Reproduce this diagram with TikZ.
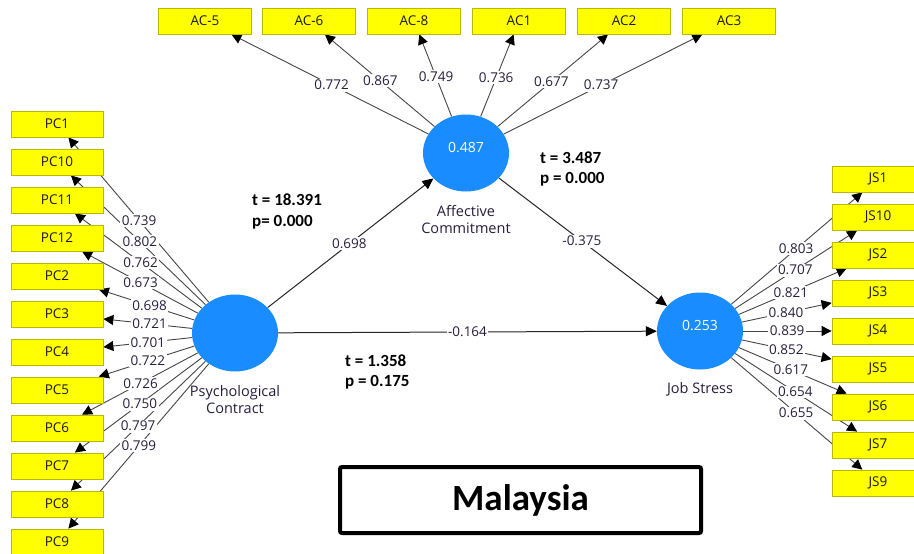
\documentclass[tikz,border=0pt]{standalone}
\usepackage{fontspec}
\setmainfont{Open Sans}
\newfontfamily\calib{Carlito}
\usetikzlibrary{shapes.geometric,arrows.meta,calc}
\definecolor{lvblue}{RGB}{25,140,255}
\definecolor{indyel}{RGB}{255,255,0}
\definecolor{indbord}{RGB}{185,185,0}
\definecolor{lnc}{RGB}{70,70,70}
\definecolor{txc}{RGB}{40,30,60}
\pgfdeclarelayer{edges}
\pgfdeclarelayer{paper}
\pgfsetlayers{paper,edges,main}
\begin{document}
\begin{tikzpicture}[x=1pt,y=-1pt,
 lv/.style={ellipse,fill=lvblue,minimum width=86pt,minimum height=77pt,inner sep=0pt},
 ind/.style={rectangle,fill=indyel,draw=indbord,line width=0.8pt,minimum width=92pt,minimum height=26pt,inner sep=0pt,font=\fontsize{13.5}{15}\selectfont,text=black!90},
 ld/.style={draw=lnc,line width=0.9pt,-{Triangle[length=10pt,width=10pt,black]}},
 sp/.style={draw=black!85,line width=1pt,-{Triangle[length=11pt,width=10pt,black]}},
 num/.style={fill=white,inner sep=1.5pt,text=txc,font=\fontsize{13.5}{15}\selectfont},
 lvname/.style={align=center,text=txc,font=\fontsize{14.5}{17}\selectfont},
 lvval/.style={text=white,font=\fontsize{14}{15}\selectfont},
 tp/.style={align=left,anchor=west,inner sep=0pt,font=\calib\bfseries\fontsize{17}{20.5}\selectfont}]
\useasboundingbox (0,0) rectangle (914,554);
\clip (0,0) rectangle (914,554);
\begin{pgfonlayer}{paper}
  \fill[white] (0,0) rectangle (914,554);
\end{pgfonlayer}

% latent variables
\node[lv] (pc) at (235,333) {};
\node[lv] (ac) at (466,153) {};
\node[lv] (js) at (700,331) {};
\node[lvval] (acv) at (466,148) {0.487};
\node[lvval] (jsv) at (700,326) {0.253};
\node[lvname] (pcn) at (235,399.5) {Psychological\\Contract};
\node[lvname] (acn) at (466,219.5) {Affective\\Commitment};
\node[lvname] (jsn) at (700,389) {Job Stress};

% PC indicators
\foreach \nm/\tx/\y/\t/\v in {pc1/PC1/124/0.539/0.739, pc10/PC10/162/0.535/0.802,
  pc11/PC11/200/0.53/0.762, pc12/PC12/238/0.53/0.673, pc2/PC2/276/0.48/0.698,
  pc3/PC3/314/0.48/0.721, pc4/PC4/352/0.49/0.701, pc5/PC5/390/0.49/0.722,
  pc6/PC6/428/0.53/0.726, pc7/PC7/466/0.535/0.750, pc8/PC8/504/0.545/0.797,
  pc9/PC9/542/0.54/0.799}{
  \node[ind] (\nm) at (57,\y) {\tx};
  \begin{pgfonlayer}{edges}
    \draw[ld] (pc) -- (\nm);
  \end{pgfonlayer}
  \node[num] (l\nm) at ($(pc)!\t!(\nm)$) {\v};
}

% JS indicators
\foreach \nm/\tx/\y/\t/\v in {js1/JS1/179/0.54/0.803, js10/JS10/217/0.535/0.707,
  js2/JS2/255/0.51/0.821, js3/JS3/293/0.483/0.840, js4/JS4/331/0.49/0.839,
  js5/JS5/369/0.485/0.852, js6/JS6/407/0.51/0.617, js7/JS7/445/0.535/0.654,
  js9/JS9/483/0.54/0.655}{
  \node[ind] (\nm) at (878,\y) {\tx};
  \begin{pgfonlayer}{edges}
    \draw[ld] (js) -- (\nm);
  \end{pgfonlayer}
  \node[num] (l\nm) at ($(js)!\t!(\nm)$) {\v};
}

% AC indicators
\foreach \nm/\tx/\x/\t/\v in {ac5/AC-5/205/0.515/0.772, ac6/AC-6/309/0.546/0.867,
  ac8/AC-8/414/0.577/0.749, ac1/AC1/519/0.57/0.736, ac2/AC2/624/0.54/0.677,
  ac3/AC3/729/0.514/0.737}{
  \node[ind,minimum width=93pt] (\nm) at (\x,21) {\tx};
  \begin{pgfonlayer}{edges}
    \draw[ld] (ac) -- (\nm);
  \end{pgfonlayer}
  \node[num] (l\nm) at ($(ac)!\t!(\nm)$) {\v};
}

% structural paths
\begin{pgfonlayer}{edges}
  \draw[sp] (pc) -- (ac);
  \draw[sp] (ac) -- (js);
  \draw[sp] (pc) -- (js);
\end{pgfonlayer}
\node[num] (lpa) at ($(pc)!0.495!(ac)$) {0.698};
\node[num] (laj) at ($(ac)!0.495!(js)$) {-0.375};
\node[num] (lpj) at ($(pc)!0.5!(js)$) {-0.164};

% t / p statistics
\node[tp] (tp1) at (252,211.5) {t = 18.391\\p= 0.000};
\node[tp] (tp2) at (345,372) {t = 1.358\\p = 0.175};
\node[tp] (tp3) at (540,169) {t = 3.487\\p = 0.000};

% country box
\node[draw=black,line width=4pt,rounded corners=2pt,minimum width=361pt,minimum height=66pt,inner sep=0pt,font=\calib\bfseries\fontsize{37}{40}\selectfont] (mal) at (520.5,500) {Malaysia};
\end{tikzpicture}
\end{document}
